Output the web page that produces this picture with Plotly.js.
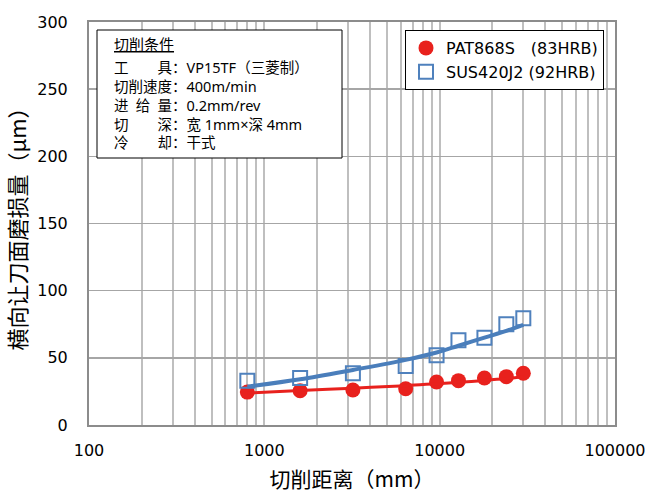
<!DOCTYPE html>
<html>
<head>
<meta charset="utf-8">
<script src="https://cdn.plot.ly/plotly-3.0.1.min.js"></script>
<style>html,body{margin:0;padding:0;background:#fff;}#chart{width:648px;height:493px;}</style>
</head>
<body>
<div id="chart"></div>
<script>
// Data
var distance = [800, 1600, 3200, 6400, 9600, 12800, 18000, 24000, 30000];
var pat868s = [24.5, 25.5, 26, 27, 32, 33, 35, 36, 38.5];
var sus420j2 = [33, 35, 38.5, 44, 52, 63, 65, 75, 79.5];
var patTrend = [23.8, 25.6, 27.4, 29.3, 30.8, 31.8, 33.2, 34.6, 36];
var susTrend = [28.5, 34, 41, 48.5, 54, 59, 65, 70, 74.5];
var seriesNames = ['PAT868S\u2003(83HRB)', 'SUS420J2 (92HRB)'];
var xTickVals = [100, 1000, 10000, 100000];
var xTickText = ['100', '1000', '10000', '100000'];
var yTickVals = [0, 50, 100, 150, 200, 250, 300];
var yTickText = ['0', '50', '100', '150', '200', '250', '300'];
var boxTitle = '切削条件';
var boxLines = [
  '工\u3000\u3000具：VP15TF（三菱制）',
  '切削速度：400m/min',
  '进\u2002给\u2002量：0.2mm/rev',
  '切\u3000\u3000深：宽 1mm×深 4mm',
  '冷\u3000\u3000却：干式'
];
var xTitle = '切削距离（mm）';
var yTitle = '横向让刀面磨损量（μm）';

var RED = '#E8211D', BLUE = '#4F81BD', BLUELINE = '#4A7EBB';
var W = 648, H = 493, ML = 89, MR = 33, MT = 22, MB = 68;
var PW = W - ML - MR, PH = H - MT - MB;
function px2x(p){ return (p - ML) / PW; }
function px2y(p){ return (H - MB - p) / PH; }

var latin = 'DejaVu Sans, Noto Sans CJK SC, sans-serif';
var boxFont = 'Noto Sans, Noto Sans CJK SC, sans-serif';
var cjk = 'Noto Sans CJK SC, sans-serif';

var traces = [
  {x: distance, y: pat868s, name: seriesNames[0], type: 'scatter', mode: 'markers',
   marker: {symbol: 'circle', size: 15, color: RED}},
  {x: distance, y: sus420j2, name: seriesNames[1], type: 'scatter', mode: 'markers',
   marker: {symbol: 'square-open', size: 14, color: BLUE, line: {width: 2, color: BLUE}}},
  {x: distance, y: patTrend, type: 'scatter', mode: 'lines', showlegend: false,
   line: {color: RED, width: 3, shape: 'spline'}},
  {x: distance, y: susTrend, type: 'scatter', mode: 'lines', showlegend: false,
   line: {color: BLUELINE, width: 4, shape: 'spline'}}
];

var annotations = [{
  xref: 'paper', yref: 'paper', x: px2x(113), y: px2y(44), xanchor: 'left', yanchor: 'middle',
  text: '<u>' + boxTitle + '</u>', showarrow: false, borderpad: 0,
  font: {family: boxFont, size: 15, color: '#000'}
}, {
  xref: 'paper', yref: 'paper', x: px2x(113), y: px2y(104.5), xanchor: 'left', yanchor: 'middle',
  align: 'left', text: boxLines.join('<br>'), showarrow: false, borderpad: 0,
  font: {family: boxFont, size: 14.5, color: '#000'}
}];

var layout = {
  width: W, height: H,
  margin: {l: ML, r: MR, t: MT, b: MB, pad: 0},
  paper_bgcolor: '#fff', plot_bgcolor: '#fff',
  showlegend: true,
  legend: {x: px2x(405), y: px2y(30), xanchor: 'left', yanchor: 'top',
    bgcolor: '#fff', bordercolor: '#000', borderwidth: 1,
    font: {family: latin, size: 16, color: '#000'}, itemwidth: 30},
  xaxis: {
    type: 'log', range: [2, 5], tickmode: 'array', tickvals: xTickVals, ticktext: xTickText,
    showgrid: true, gridcolor: '#BFBFBF', gridwidth: 2,
    minor: {dtick: 'D1', showgrid: true, gridcolor: '#BFBFBF', gridwidth: 2, ticks: ''},
    showline: true, linecolor: '#8C8C8C', linewidth: 2, mirror: true,
    ticks: '', ticklabelstandoff: 10,
    tickfont: {family: latin, size: 16, color: '#000'},
    title: {text: xTitle, font: {family: cjk, size: 21, color: '#000'}, standoff: 14},
    zeroline: false, automargin: false
  },
  yaxis: {
    range: [0, 300], tickmode: 'array', tickvals: yTickVals, ticktext: yTickText,
    showgrid: true, gridcolor: '#A6A6A6', gridwidth: 1.5,
    showline: true, linecolor: '#8C8C8C', linewidth: 2, mirror: true,
    ticks: '', ticklabelstandoff: 16,
    tickfont: {family: latin, size: 16, color: '#000'},
    title: {text: yTitle, font: {family: cjk, size: 22, color: '#000'}, standoff: 8},
    zeroline: false, automargin: false
  },
  shapes: [{
    type: 'rect', xref: 'paper', yref: 'paper',
    x0: px2x(97), x1: px2x(342), y0: px2y(158), y1: px2y(30),
    line: {color: '#000', width: 1}, fillcolor: '#fff', layer: 'above'
  }],
  annotations: annotations
};

Plotly.newPlot('chart', traces, layout, {displayModeBar: false, staticPlot: true});
</script>
</body>
</html>
